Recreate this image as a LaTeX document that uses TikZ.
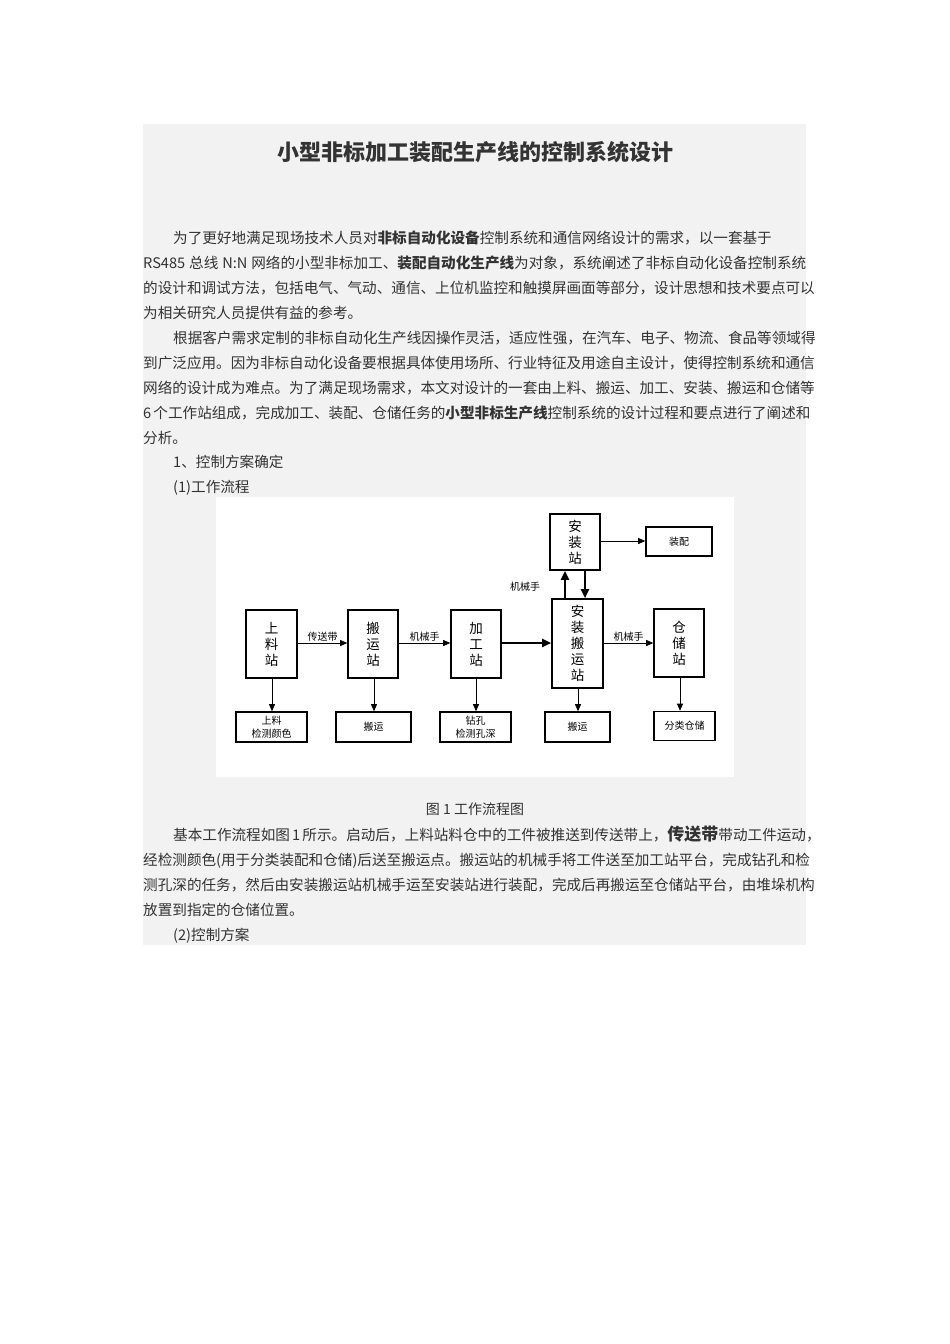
\documentclass[tikz,border=0pt]{standalone}
\usepackage{fontspec}
\setmainfont{Noto Sans CJK SC}
\usetikzlibrary{arrows.meta}
\XeTeXlinebreaklocale "zh"
\XeTeXlinebreakskip=0pt plus 4pt minus 0.6pt
\newcommand{\jline}[3]{\node[txt] (#1) at (143,#2) {\hbox to 663pt{#3}};}
\newcommand{\pline}[3]{\node[txt] (#1) at (143,#2) {#3};}
\begin{document}
\begin{tikzpicture}[x=1pt,y=-1pt,
  txt/.style={anchor=base west,inner sep=0pt,font=\fontsize{14.6}{25}\selectfont,text=black!80},
  box/.style={draw=black,line width=1.6pt,inner sep=0pt,font=\fontsize{13.5}{16}\selectfont,align=center},
  sbox/.style={draw=black,line width=1.6pt,inner sep=0pt,font=\fontsize{10}{12.5}\selectfont,align=center},
  arr/.style={-{Triangle[length=7pt,width=6pt]},line width=0.7pt},
  tarr/.style={-{Triangle[length=9pt,width=8pt]},line width=2pt},
  lab/.style={font=\fontsize{10}{12}\selectfont,inner sep=1pt}]
\useasboundingbox (0,0) rectangle (950,1344);
\fill[white] (0,0) rectangle (950,1344);
\fill[black!5] (143,124) rectangle (806,945);
\node[font=\fontsize{22}{26}\selectfont\bfseries,text=black!80] (title) at (475,152) {小型非标加工装配生产线的控制系统设计};
\jline{l1}{243}{\hspace*{30pt}为了更好地满足现场技术人员对\textbf{非标自动化设备}控制系统和通信网络设计的需求，以一套基于}
\jline{l2}{268}{RS485 总线 N:N 网络的小型非标加工、\textbf{装配自动化生产线}为对象，系统阐述了非标自动化设备控制系统}
\jline{l3}{293}{的设计和调试方法，包括电气、气动、通信、上位机监控和触摸屏画面等部分，设计思想和技术要点可以}
\pline{l4}{318}{为相关研究人员提供有益的参考。}
\jline{l5}{343}{\hspace*{30pt}根据客户需求定制的非标自动化生产线因操作灵活，适应性强，在汽车、电子、物流、食品等领域得}
\jline{l6}{368}{到广泛应用。因为非标自动化设备要根据具体使用场所、行业特征及用途自主设计，使得控制系统和通信}
\jline{l7}{393}{网络的设计成为难点。为了满足现场需求，本文对设计的一套由上料、搬运、加工、安装、搬运和仓储等}
\jline{l8}{418}{6 个工作站组成，完成加工、装配、仓储任务的\textbf{小型非标生产线}控制系统的设计过程和要点进行了阐述和}
\pline{l9}{443}{分析。}
\pline{l10}{467}{\hspace*{30pt}1、控制方案确定}
\pline{l11}{492}{\hspace*{30pt}(1)工作流程}
% diagram
\fill[white] (216,497) rectangle (734,777);
\node[box,minimum width=51pt,minimum height=68pt] (sl) at (271.5,644) {上\\料\\站};
\node[box,minimum width=50pt,minimum height=68pt] (by) at (373,644) {搬\\运\\站};
\node[box,minimum width=50pt,minimum height=68pt] (jg) at (476,644) {加\\工\\站};
\node[box,minimum width=51pt,minimum height=89pt] (azby) at (577.5,643.5) {安\\装\\搬\\运\\站};
\node[box,minimum width=50pt,minimum height=68pt] (cc) at (679,643) {仓\\储\\站};
\node[box,minimum width=50pt,minimum height=56pt] (az) at (575,542) {安\\装\\站};
\node[sbox,minimum width=66pt,minimum height=29pt] (zp) at (679,541.5) {装配};
\node[sbox,minimum width=71pt,minimum height=30pt] (b1) at (271.5,727) {上料\\检测颜色};
\node[sbox,minimum width=75pt,minimum height=30pt] (b2) at (373.5,727) {搬运};
\node[sbox,minimum width=71pt,minimum height=30pt] (b3) at (475.5,727) {钻孔\\检测孔深};
\node[sbox,minimum width=65pt,minimum height=30pt] (b4) at (577.5,727) {搬运};
\node[sbox,minimum width=61pt,minimum height=29pt] (b5) at (684.5,726) {分类仓储};
\draw[arr] (sl.east|-0,643) -- (by.west|-0,643) node[lab,midway,above] {传送带};
\draw[arr] (by.east|-0,643) -- (jg.west|-0,643) node[lab,midway,above] {机械手};
\draw[tarr] (jg.east|-0,643) -- (azby.west|-0,643);
\draw[arr] (azby.east|-0,643) -- (cc.west|-0,643) node[lab,midway,above] {机械手};
\draw[arr] (az.east|-0,541) -- (zp.west|-0,541);
\draw[tarr] (565,0|-azby.north) -- (565,0|-az.south);
\draw[tarr] (585,0|-az.south) -- (585,0|-azby.north);
\node[lab] (jxs) at (525,587) {机械手};
\draw[arr] (272,0|-sl.south) -- (272,0|-b1.north);
\draw[arr] (374,0|-by.south) -- (374,0|-b2.north);
\draw[arr] (476,0|-jg.south) -- (476,0|-b3.north);
\draw[arr] (578,0|-azby.south) -- (578,0|-b4.north);
\draw[arr] (680,0|-cc.south) -- (680,0|-b5.north);
\node[font=\fontsize{14}{17}\selectfont,text=black!80] (cap) at (475,809) {图 1 工作流程图};
\jline{m1}{840}{\hspace*{30pt}基本工作流程如图 1 所示。启动后，上料站料仓中的工件被推送到传送带上，{\fontsize{17}{25}\selectfont\textbf{传送带}}带动工件运动，}
\jline{m2}{865}{经检测颜色(用于分类装配和仓储)后送至搬运点。搬运站的机械手将工件送至加工站平台，完成钻孔和检}
\jline{m3}{890}{测孔深的任务，然后由安装搬运站机械手运至安装站进行装配，完成后再搬运至仓储站平台，由堆垛机构}
\pline{m4}{915}{放置到指定的仓储位置。}
\pline{m5}{940}{\hspace*{30pt}(2)控制方案}
\end{tikzpicture}
\end{document}
